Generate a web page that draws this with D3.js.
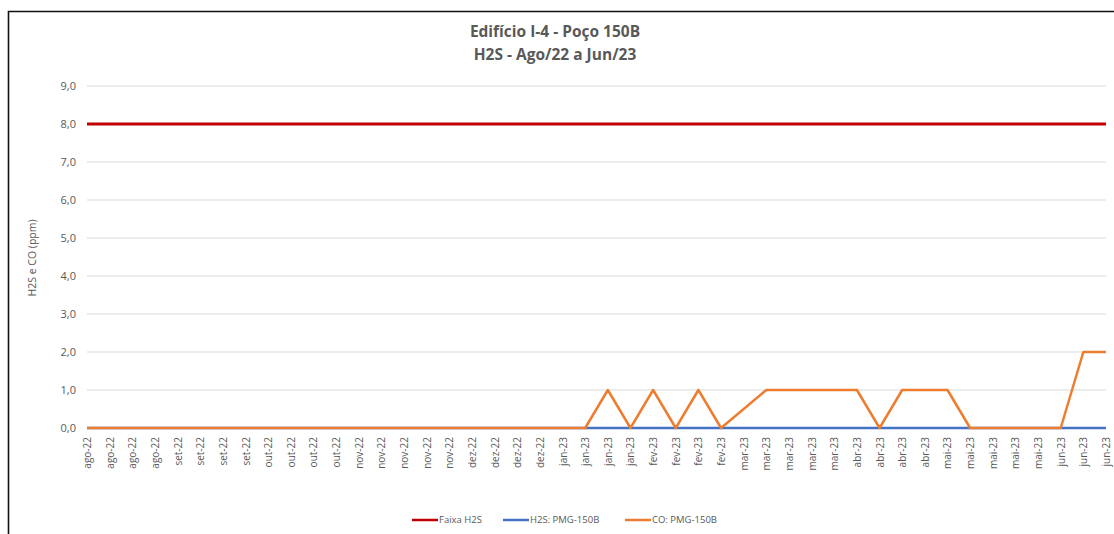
<!doctype html>
<html>
<head>
  <meta charset="utf-8">
  <title>Edifício I-4 - Poço 150B</title>
  <script src="https://cdnjs.cloudflare.com/ajax/libs/d3/7.8.5/d3.min.js"></script>
  <style>
    body { margin: 0; background: #fff; }
    svg { display: block; font-family: "Open Sans", "Noto Sans", sans-serif; }
  </style>
</head>
<body>
  <div id="chart"></div>
  <script>
    // weekly readings, ago/22 to jun/23
    const weeks = [
      'ago-22','ago-22','ago-22','ago-22',
      'set-22','set-22','set-22','set-22',
      'out-22','out-22','out-22','out-22',
      'nov-22','nov-22','nov-22','nov-22','nov-22',
      'dez-22','dez-22','dez-22','dez-22',
      'jan-23','jan-23','jan-23','jan-23',
      'fev-23','fev-23','fev-23','fev-23',
      'mar-23','mar-23','mar-23','mar-23','mar-23',
      'abr-23','abr-23','abr-23','abr-23',
      'mai-23','mai-23','mai-23','mai-23','mai-23',
      'jun-23','jun-23','jun-23'
    ];
    const faixaH2S = weeks.map(() => 8);
    const h2s = weeks.map(() => 0);
    const co = [
      0,0,0,0, 0,0,0,0, 0,0,0,0, 0,0,0,0,0, 0,0,0,0,
      0,0,1,0, 1,0,1,0, 0.5,1,1,1,1, 1,0,1,1,
      1,0,0,0,0, 0,2,2
    ];
    const yTicks = [0,1,2,3,4,5,6,7,8,9];

    const series = [
      { name: 'Faixa H2S', values: faixaH2S, color: '#C00000', w: 3 },
      { name: 'H2S: PMG-150B', values: h2s, color: '#4472C4', w: 2.5 },
      { name: 'CO: PMG-150B', values: co, color: '#ED7D31', w: 2.5 }
    ];

    const width = 1114, height = 534;
    const svg = d3.select('#chart').append('svg')
      .attr('width', width).attr('height', height);

    // chart frame (left and top edge visible)
    svg.append('path')
      .attr('d', `M8.5,${height} V11.5 H${width}`)
      .attr('fill', 'none').attr('stroke', '#111').attr('stroke-width', 1.6);

    const x = d3.scalePoint().domain(d3.range(weeks.length)).range([87, 1106]);
    const y = d3.scaleLinear().domain([0, 9]).range([428, 86]);

    // gridlines
    svg.append('g').selectAll('line').data(yTicks).join('line')
      .attr('x1', 87).attr('x2', 1106)
      .attr('y1', d => y(d)).attr('y2', d => y(d))
      .attr('stroke', '#d9d9d9').attr('stroke-width', 1);

    // y axis labels
    const yAxis = svg.append('g').attr('transform', 'translate(76,0)')
      .call(d3.axisLeft(y).tickValues(yTicks).tickSize(0).tickPadding(0)
        .tickFormat(d => d3.format('.1f')(d).replace('.', ',')));
    yAxis.select('.domain').remove();
    yAxis.selectAll('text').attr('fill', '#595959').style('font-size', '11px')
      .style('font-family', '"Open Sans", sans-serif');

    // x axis labels
    const xAxis = svg.append('g').attr('transform', 'translate(0,428)')
      .call(d3.axisBottom(x).tickSize(0).tickFormat(i => weeks[i]));
    xAxis.select('.domain').remove();
    xAxis.selectAll('text')
      .attr('fill', '#595959').style('font-size', '10px')
      .style('font-family', '"Open Sans", sans-serif')
      .attr('text-anchor', 'end')
      .attr('transform', 'rotate(-90)')
      .attr('x', -9).attr('y', 0).attr('dy', '0.35em');

    // lines
    const line = d3.line().x((d, i) => x(i)).y(d => y(d));
    svg.append('g').selectAll('path').data(series).join('path')
      .attr('d', d => line(d.values))
      .attr('fill', 'none')
      .attr('stroke', d => d.color)
      .attr('stroke-width', d => d.w)
      .attr('stroke-linejoin', 'round');

    // titles
    svg.append('text').attr('x', 555).attr('y', 37).attr('text-anchor', 'middle')
      .attr('fill', '#595959').style('font-size', '15.5px').style('font-weight', 'bold')
      .text('Edifício I-4 - Poço 150B');
    svg.append('text').attr('x', 555).attr('y', 60).attr('text-anchor', 'middle')
      .attr('fill', '#595959').style('font-size', '15.5px').style('font-weight', 'bold')
      .text('H2S - Ago/22 a Jun/23');

    svg.append('text')
      .attr('transform', 'translate(36,258) rotate(-90)')
      .attr('text-anchor', 'middle')
      .attr('fill', '#595959').style('font-size', '10.5px')
      .text('H2S e CO (ppm)');

    // legend
    const legendX = [412, 503, 625];
    const legend = svg.append('g').selectAll('g').data(series).join('g')
      .attr('transform', (d, i) => `translate(${legendX[i]},520)`);
    legend.append('line').attr('x1', 0).attr('x2', 26)
      .attr('stroke', d => d.color).attr('stroke-width', 2.5);
    legend.append('text').attr('x', 27).attr('dy', '0.35em')
      .attr('fill', '#595959').style('font-size', '9.5px')
      .text(d => d.name);
  </script>
</body>
</html>
